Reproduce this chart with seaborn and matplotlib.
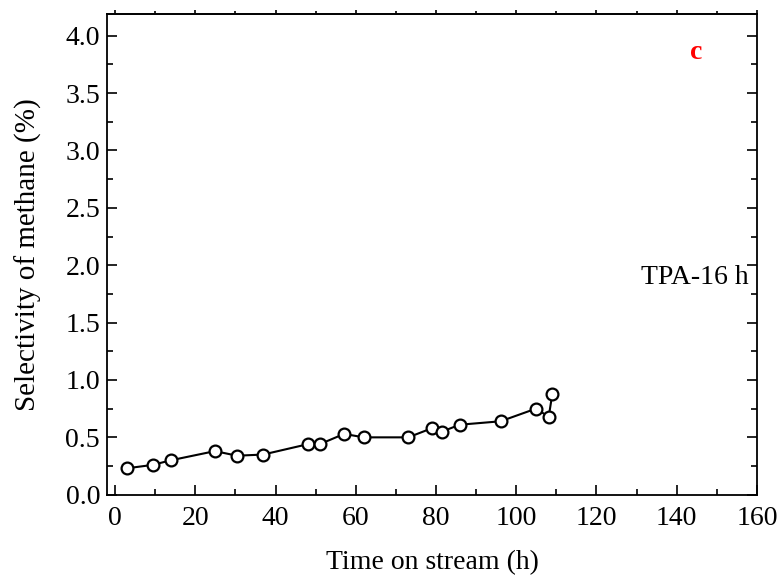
import matplotlib
matplotlib.use("Agg")
import matplotlib.pyplot as plt
import seaborn as sns
import pandas as pd
from matplotlib.ticker import MultipleLocator

time_h = [2.9, 9.4, 13.9, 24.9, 30.4, 36.9, 48.0, 51.0, 57.1, 62.0, 73.1, 79.0, 81.5, 85.9, 96.1, 104.9, 108.1, 109.0]
selectivity = [0.23, 0.26, 0.30, 0.38, 0.34, 0.35, 0.44, 0.44, 0.53, 0.50, 0.50, 0.58, 0.55, 0.61, 0.64, 0.75, 0.68, 0.88]

df = pd.DataFrame({"time": time_h, "sel": selectivity})

sns.set_theme(style="ticks")
plt.rcParams["font.family"] = ["Liberation Serif", "DejaVu Serif"]
plt.rcParams["mathtext.fontset"] = "stix"
plt.rcParams["text.color"] = "black"
plt.rcParams["axes.labelcolor"] = "black"
plt.rcParams["xtick.color"] = "black"
plt.rcParams["ytick.color"] = "black"

fig = plt.figure(figsize=(7.84, 5.81), dpi=100)
ax = fig.add_axes([0.1365, 0.1485, 0.829, 0.8275])

sns.lineplot(data=df, x="time", y="sel", ax=ax, color="black", linewidth=1.5,
             marker="o", markersize=8.5, markerfacecolor="white",
             markeredgecolor="black", markeredgewidth=1.6, sort=False)

ax.set_xlim(-2, 160)
ax.set_ylim(0, 4.19)
ax.xaxis.set_major_locator(MultipleLocator(20))
ax.xaxis.set_minor_locator(MultipleLocator(10))
ax.yaxis.set_major_locator(MultipleLocator(0.5))
ax.yaxis.set_minor_locator(MultipleLocator(0.25))
ax.set_yticklabels([f"{v:.1f}" for v in ax.get_yticks()])
ax.tick_params(which="both", direction="in", right=True, width=1.2,
               color="black", labelcolor="black")
ax.tick_params(which="major", length=7, labelsize=20)
ax.tick_params(axis="x", which="major", pad=8)
ax.tick_params(axis="y", which="major", pad=5)
ax.tick_params(which="minor", length=4)

# Top axis: short outward ticks
top = ax.secondary_xaxis("top")
top.xaxis.set_major_locator(MultipleLocator(20))
top.xaxis.set_minor_locator(MultipleLocator(10))
top.tick_params(which="both", direction="out", width=1.2, color="black", labeltop=False)
top.tick_params(which="major", length=3)
top.tick_params(which="minor", length=2)
top.spines["top"].set_linewidth(1.3)

for s in ax.spines.values():
    s.set_linewidth(1.3)
    s.set_color("black")

ax.set_xlabel("Time on stream (h)", fontsize=20, labelpad=14, color="black")
ax.set_ylabel("Selectivity of methane (%)", fontsize=21, labelpad=17, color="black")

ax.text(144.9, 3.85, "c", color="red", fontsize=20, fontweight="bold", ha="center", va="center")
ax.text(144.5, 1.89, "TPA-16 h", color="black", fontsize=20, ha="center", va="center")

fig.savefig("out.png", dpi=100)
